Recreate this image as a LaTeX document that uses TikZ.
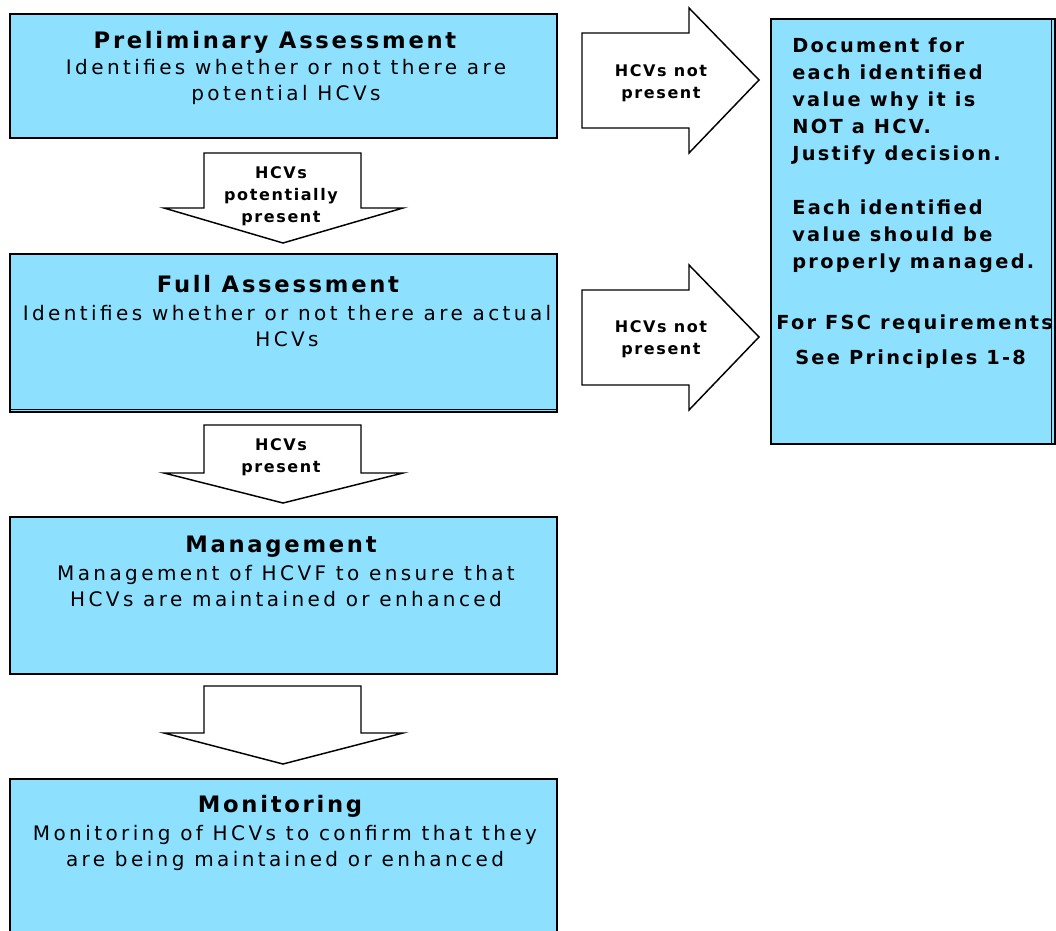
\documentclass[tikz,border=0pt]{standalone}
\usepackage{fontspec}
\setmainfont{DejaVu Sans}
\newfontfamily\titlefont{DejaVu Sans}[LetterSpace=12]
\newfontfamily\bodyfont{DejaVu Sans}[LetterSpace=17]
\newfontfamily\labelfont{DejaVu Sans}[LetterSpace=10]
\newfontfamily\notefont{DejaVu Sans}[LetterSpace=12]
\usetikzlibrary{positioning}
\definecolor{hcvblue}{RGB}{142,224,255}

\tikzset{
  stagebox/.style={draw, line width=1.3pt, fill=hcvblue, rectangle, minimum width=410.25pt, inner sep=0pt},
  notebox/.style={draw, line width=1.3pt, fill=hcvblue, rectangle, minimum width=213pt, minimum height=318.75pt, inner sep=0pt},
  blockarrow/.style={draw, line width=1.1pt, fill=white, line join=miter},
  stagetitle/.style={font=\titlefont\bfseries\fontsize{17}{19.5}\selectfont, inner sep=0pt},
  stagetext/.style={font=\bodyfont\fontsize{15}{19.5}\selectfont, align=center, inner sep=0pt},
  arrowtext/.style={font=\labelfont\bfseries\fontsize{12}{16.5}\selectfont, align=center, inner sep=0pt},
  notetext/.style={font=\notefont\bfseries\fontsize{14.5}{20.25}\selectfont, align=left, inner sep=0pt}
}

\begin{document}
\begin{tikzpicture}[x=0.75pt, y=-0.75pt]
  \useasboundingbox (0,0) rectangle (1056,931);

  % Stages
  \node[stagebox, minimum height=93pt] (pre) at (283.5,76) {};
  \node[stagebox, minimum height=118.5pt] (full) at (283.5,333) {};
  \draw[line width=0.8pt] ([yshift=2.5pt]full.south west) -- ([yshift=2.5pt]full.south east);
  \node[stagebox, minimum height=117.75pt] (mgmt) at (283.5,595.5) {};
  \node[stagebox, minimum height=124pt] (mon) at (283.5,862) {};

  % Note box on the right
  \node[notebox] (note) at (913,231.5) {};
  \draw[line width=0.8pt] ([xshift=-3.5pt]note.north east) -- ([xshift=-3.5pt]note.south east);

  % Titles and texts
  \node[stagetitle] (pretitle) at (275,42) {Preliminary Assessment};
  \node[stagetext] (pretext) at (286,82) {Identifies whether or not there are\\potential HCVs};
  \node[stagetitle] (fulltitle) at (278,284) {Full Assessment};
  \node[stagetext] (fulltext) at (287,326) {Identifies whether or not there are actual\\HCVs};
  \node[stagetitle] (mgmttitle) at (281,547) {Management};
  \node[stagetext] (mgmttext) at (286,586.5) {Management of HCVF to ensure that\\HCVs are maintained or enhanced};
  \node[stagetitle] (montitle) at (280,806) {Monitoring};
  \node[stagetext] (montext) at (285,847.5) {Monitoring of HCVs to confirm that they\\are being maintained or enhanced};

  % Downward arrows
  \draw[blockarrow] (204,153) -- (361,153) -- (361,208) -- (403,208) -- (283,243) -- (164,208) -- (204,208) -- cycle;
  \node[arrowtext] (potential) at (281,196) {HCVs\\potentially\\present};
  \draw[blockarrow] (204,425) -- (361,425) -- (361,473) -- (403,473) -- (283,503) -- (164,473) -- (204,473) -- cycle;
  \node[arrowtext] (present) at (281,457.5) {HCVs\\present};
  \draw[blockarrow] (204,686) -- (361,686) -- (361,733) -- (403,733) -- (283,764) -- (164,733) -- (204,733) -- cycle;

  % Arrows to the right
  \draw[blockarrow] (582,33) -- (689,33) -- (689,8) -- (759,80) -- (689,153) -- (689,128) -- (582,128) -- cycle;
  \node[arrowtext] (notpre) at (661,83.5) {HCVs not\\present};
  \draw[blockarrow] (582,290) -- (689,290) -- (689,265) -- (759,337) -- (689,410) -- (689,385) -- (582,385) -- cycle;
  \node[arrowtext] (notfull) at (661,339.5) {HCVs not\\present};

  % Note texts
  \node[notetext, anchor=north west] (doc) at (792,38) {Document for\\each identified\\value why it is\\NOT a HCV.\\Justify decision.\\[20.25pt]Each identified\\value should be\\properly managed.};
  \node[notetext, anchor=west] (fsc) at (776,324) {For FSC requirements};
  \node[notetext, anchor=west] (princ) at (795,359) {See Principles 1-8};
\end{tikzpicture}
\end{document}
